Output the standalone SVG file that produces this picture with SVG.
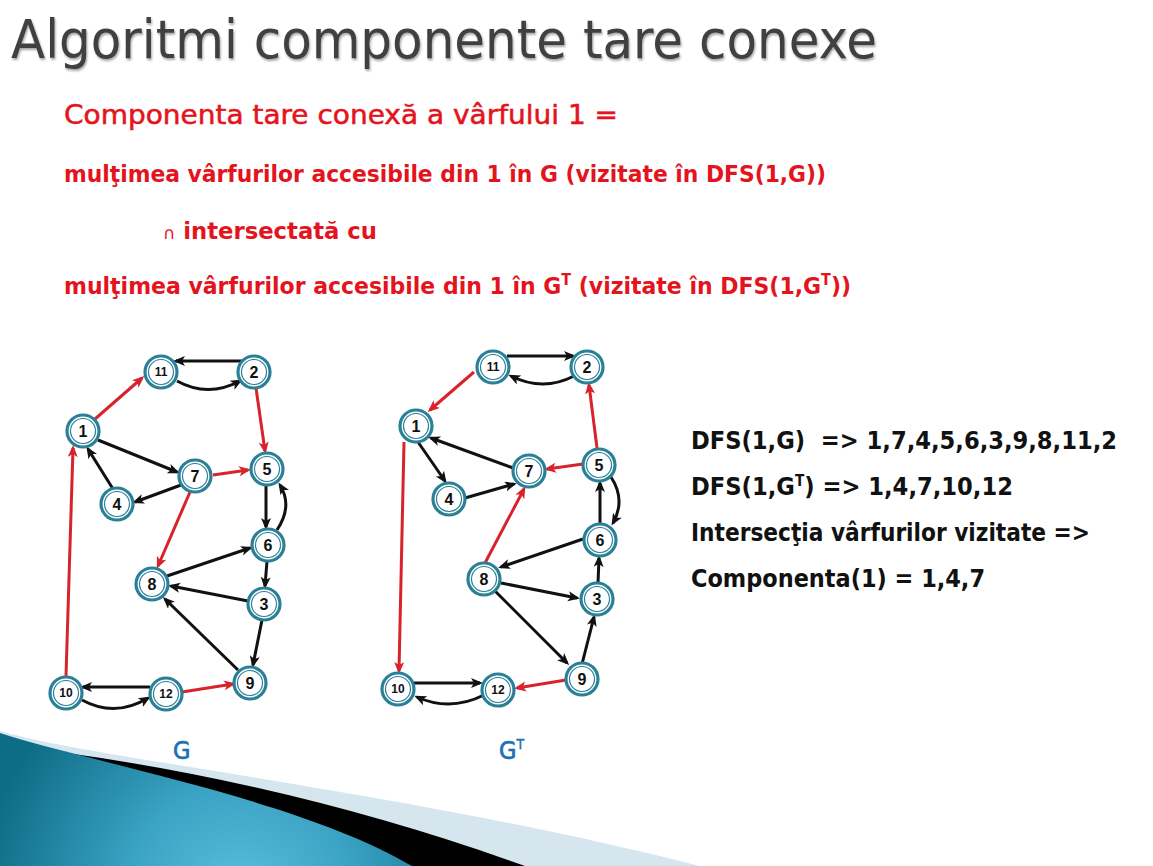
<svg xmlns="http://www.w3.org/2000/svg" width="1153" height="866" viewBox="0 0 1153 866">
  <defs>
    <style>
      .title { font-family: "DejaVu Sans Condensed", "DejaVu Sans", "Liberation Sans", sans-serif; font-size: 54px; fill: #404040; }
      .red1 { font-family: "DejaVu Sans Condensed", "DejaVu Sans", sans-serif; font-size: 27px; fill: #e3141d; stroke: #e3141d; stroke-width: 0.5; }
      .red2 { font-family: "DejaVu Sans Condensed", "DejaVu Sans", sans-serif; font-size: 23px; font-weight: bold; fill: #e3141d; }
      .info { font-family: "DejaVu Sans Condensed", "DejaVu Sans", sans-serif; font-size: 25px; font-weight: bold; fill: #111; white-space: pre; }
      .lbl { font-family: "DejaVu Sans Condensed", "DejaVu Sans", sans-serif; font-size: 25px; fill: #1f6fb4; stroke: #1f6fb4; stroke-width: 0.7; }
      .ring { fill: #fff; stroke: #2a8096; stroke-width: 3.2; }
      .ring2 { fill: none; stroke: #2a8096; stroke-width: 1.2; }
      .num { font-family: "Liberation Sans", Arial, sans-serif; font-weight: bold; font-size: 16px; fill: #111; text-anchor: middle; }
      .num2 { font-size: 12px; }
      .e { fill: none; stroke: #111; stroke-width: 3; marker-end: url(#ab); }
      .r { fill: none; stroke: #d8232c; stroke-width: 3; marker-end: url(#ar); }
    </style>
    <marker id="ab" markerUnits="userSpaceOnUse" markerWidth="14" markerHeight="12" refX="9" refY="5" orient="auto">
      <path d="M0,0 L12,5 L0,10 L3,5 Z" fill="#111"/>
    </marker>
    <marker id="ar" markerUnits="userSpaceOnUse" markerWidth="14" markerHeight="12" refX="9" refY="5" orient="auto">
      <path d="M0,0 L12,5 L0,10 L3,5 Z" fill="#d8232c"/>
    </marker>
    <radialGradient id="teal" cx="240" cy="900" r="260" gradientUnits="userSpaceOnUse">
      <stop offset="0" stop-color="#5ec0de"/>
      <stop offset="0.45" stop-color="#3aa2c3"/>
      <stop offset="1" stop-color="#0d6c86"/>
    </radialGradient>
    <filter id="shadow" x="-5%" y="-20%" width="110%" height="150%">
      <feDropShadow dx="1" dy="2" stdDeviation="1" flood-color="#000" flood-opacity="0.35"/>
    </filter>
  </defs>

  <rect width="1153" height="866" fill="#fff"/>

  <!-- corner band -->
  <g id="corner-band">
    <path d="M0,731 C100,760 400,790 700,866 L0,866 Z" fill="#d5e6ef"/>
    <path d="M60,752 Q300,785 525,866 L0,866 Z" fill="#000"/>
    <path d="M0,733 C100,765 300,800 412,866 L0,866 Z" fill="url(#teal)"/>
  </g>

  <!-- heading -->
  <text class="title" x="11" y="58" textLength="866" lengthAdjust="spacingAndGlyphs" filter="url(#shadow)">Algoritmi componente tare conexe</text>

  <!-- definition -->
  <g id="definition">
    <text class="red1" x="64" y="124" textLength="554" lengthAdjust="spacingAndGlyphs">Componenta tare conexă a vârfului 1 =</text>
    <text class="red2" x="64" y="182" textLength="762" lengthAdjust="spacingAndGlyphs">mulţimea vârfurilor accesibile din 1 în G (vizitate în DFS(1,G))</text>
    <text class="red2" x="163" y="239" textLength="214" lengthAdjust="spacingAndGlyphs"><tspan font-size="17" font-weight="normal">∩</tspan> intersectată cu</text>
    <text class="red2" x="64" y="294" textLength="787" lengthAdjust="spacingAndGlyphs">mulţimea vârfurilor accesibile din 1 în G<tspan font-size="15" dy="-9">T</tspan><tspan dy="9"> (vizitate în DFS(1,G</tspan><tspan font-size="15" dy="-9">T</tspan><tspan dy="9">))</tspan></text>
  </g>

  <!-- results -->
  <g id="results">
    <text class="info" x="691" y="449" textLength="426" lengthAdjust="spacingAndGlyphs">DFS(1,G)  =&gt; 1,7,4,5,6,3,9,8,11,2</text>
    <text class="info" x="691" y="495" textLength="322" lengthAdjust="spacingAndGlyphs">DFS(1,G<tspan font-size="15" dy="-9">T</tspan><tspan dy="9">) =&gt; 1,4,7,10,12</tspan></text>
    <text class="info" x="691" y="541" textLength="399" lengthAdjust="spacingAndGlyphs">Intersecţia vârfurilor vizitate =&gt;</text>
    <text class="info" x="691" y="587" textLength="294" lengthAdjust="spacingAndGlyphs">Componenta(1) = 1,4,7</text>
  </g>

  <!-- graph labels -->
  <text class="lbl" x="173" y="759">G</text>
  <text class="lbl" x="499" y="759">G<tspan font-size="14" stroke-width="0.4" dy="-10">T</tspan></text>

  <!-- connectors of G -->
  <g id="edges-G">
    <path class="e" d="M242,361 L176,361"/>
    <path class="e" d="M177,381 Q208,398 240,381"/>
    <path class="r" d="M95,419 L142,378"/>
    <path class="r" d="M256,388 L265,451"/>
    <path class="e" d="M98,440 L177,472"/>
    <path class="e" d="M113,489 L88,449"/>
    <path class="e" d="M181,485 L135,502"/>
    <path class="r" d="M213,475 L248,470"/>
    <path class="r" d="M190,492 L158,566"/>
    <path class="e" d="M266,486 L266,527"/>
    <path class="e" d="M277,530 Q293,506 280,485"/>
    <path class="r" d="M66,676 L73,448"/>
    <path class="e" d="M167,576 L250,548"/>
    <path class="e" d="M267,561 L265,586"/>
    <path class="e" d="M248,601 L171,586"/>
    <path class="e" d="M262,620 L253,665"/>
    <path class="e" d="M238,670 L165,599"/>
    <path class="e" d="M150,687 L83,687"/>
    <path class="e" d="M82,700 Q115,718 148,698"/>
    <path class="r" d="M182,692 L233,684"/>
  </g>

  <!-- connectors of G transposed -->
  <g id="edges-GT">
    <path class="e" d="M507,356 L573,356"/>
    <path class="e" d="M574,376 Q543,392 511,376"/>
    <path class="r" d="M474,372 L430,410"/>
    <path class="r" d="M597,448 L589,385"/>
    <path class="e" d="M513,468 L431,438"/>
    <path class="e" d="M418,442 L445,481"/>
    <path class="e" d="M465,498 L514,484"/>
    <path class="r" d="M583,464 L547,469"/>
    <path class="r" d="M485,563 L524,489"/>
    <path class="e" d="M600,524 L600,483"/>
    <path class="e" d="M611,477 Q626,500 613,523"/>
    <path class="r" d="M404,442 L399,671"/>
    <path class="e" d="M583,539 L501,567"/>
    <path class="e" d="M598,583 L599,558"/>
    <path class="e" d="M501,583 L577,598"/>
    <path class="e" d="M582,664 L594,617"/>
    <path class="e" d="M495,591 L567,663"/>
    <path class="e" d="M413,683 L480,683"/>
    <path class="e" d="M484,695 Q450,712 417,697"/>
    <path class="r" d="M566,680 L517,688"/>
  </g>

  <!-- vertices of G -->
  <g id="G-n11" transform="translate(161,372)"><circle class="ring" r="16"/><circle class="ring2" r="12.5"/><text class="num num2" y="4.3">11</text></g>
  <g id="G-n2" transform="translate(254,372)"><circle class="ring" r="16"/><circle class="ring2" r="12.5"/><text class="num" y="5.7">2</text></g>
  <g id="G-n1" transform="translate(83,431)"><circle class="ring" r="16"/><circle class="ring2" r="12.5"/><text class="num" y="5.7">1</text></g>
  <g id="G-n7" transform="translate(195,476)"><circle class="ring" r="16"/><circle class="ring2" r="12.5"/><text class="num" y="5.7">7</text></g>
  <g id="G-n5" transform="translate(267,469)"><circle class="ring" r="16"/><circle class="ring2" r="12.5"/><text class="num" y="5.7">5</text></g>
  <g id="G-n4" transform="translate(117,504)"><circle class="ring" r="16"/><circle class="ring2" r="12.5"/><text class="num" y="5.7">4</text></g>
  <g id="G-n6" transform="translate(268,545)"><circle class="ring" r="16"/><circle class="ring2" r="12.5"/><text class="num" y="5.7">6</text></g>
  <g id="G-n8" transform="translate(152,584)"><circle class="ring" r="16"/><circle class="ring2" r="12.5"/><text class="num" y="5.7">8</text></g>
  <g id="G-n3" transform="translate(264,604)"><circle class="ring" r="16"/><circle class="ring2" r="12.5"/><text class="num" y="5.7">3</text></g>
  <g id="G-n9" transform="translate(250,683)"><circle class="ring" r="16"/><circle class="ring2" r="12.5"/><text class="num" y="5.7">9</text></g>
  <g id="G-n10" transform="translate(66,693)"><circle class="ring" r="16"/><circle class="ring2" r="12.5"/><text class="num num2" y="4.3">10</text></g>
  <g id="G-n12" transform="translate(166,694)"><circle class="ring" r="16"/><circle class="ring2" r="12.5"/><text class="num num2" y="4.3">12</text></g>

  <!-- vertices of G transposed -->
  <g id="GT-n11" transform="translate(493,367)"><circle class="ring" r="16"/><circle class="ring2" r="12.5"/><text class="num num2" y="4.3">11</text></g>
  <g id="GT-n2" transform="translate(587,367)"><circle class="ring" r="16"/><circle class="ring2" r="12.5"/><text class="num" y="5.7">2</text></g>
  <g id="GT-n1" transform="translate(416,426)"><circle class="ring" r="16"/><circle class="ring2" r="12.5"/><text class="num" y="5.7">1</text></g>
  <g id="GT-n7" transform="translate(529,471)"><circle class="ring" r="16"/><circle class="ring2" r="12.5"/><text class="num" y="5.7">7</text></g>
  <g id="GT-n5" transform="translate(599,465)"><circle class="ring" r="16"/><circle class="ring2" r="12.5"/><text class="num" y="5.7">5</text></g>
  <g id="GT-n4" transform="translate(449,499)"><circle class="ring" r="16"/><circle class="ring2" r="12.5"/><text class="num" y="5.7">4</text></g>
  <g id="GT-n6" transform="translate(600,540)"><circle class="ring" r="16"/><circle class="ring2" r="12.5"/><text class="num" y="5.7">6</text></g>
  <g id="GT-n8" transform="translate(484,579)"><circle class="ring" r="16"/><circle class="ring2" r="12.5"/><text class="num" y="5.7">8</text></g>
  <g id="GT-n3" transform="translate(597,599)"><circle class="ring" r="16"/><circle class="ring2" r="12.5"/><text class="num" y="5.7">3</text></g>
  <g id="GT-n9" transform="translate(582,679)"><circle class="ring" r="16"/><circle class="ring2" r="12.5"/><text class="num" y="5.7">9</text></g>
  <g id="GT-n10" transform="translate(398,689)"><circle class="ring" r="16"/><circle class="ring2" r="12.5"/><text class="num num2" y="4.3">10</text></g>
  <g id="GT-n12" transform="translate(498,690)"><circle class="ring" r="16"/><circle class="ring2" r="12.5"/><text class="num num2" y="4.3">12</text></g>
</svg>
